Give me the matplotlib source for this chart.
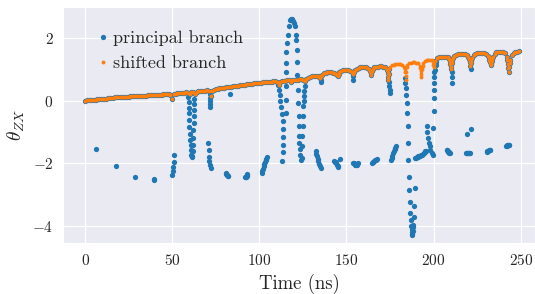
import matplotlib
matplotlib.use("Agg")
import matplotlib.pyplot as plt
import numpy as np
import seaborn as sns

# upper band, one sample per ns (t = 0 .. 249)
band_shifted = [
    0.00, 0.01, 0.01, 0.02, 0.02, 0.03, 0.03, 0.04, 0.04, 0.05,
    0.05, 0.06, 0.06, 0.07, 0.08, 0.10, 0.10, 0.11, 0.11, 0.11,
    0.12, 0.12, 0.12, 0.13, 0.13, 0.13, 0.14, 0.14, 0.14, 0.14,
    0.15, 0.15, 0.15, 0.16, 0.16, 0.16, 0.17, 0.17, 0.17, 0.18,
    0.18, 0.18, 0.19, 0.19, 0.19, 0.20, 0.20, 0.20, 0.21, 0.18,
    0.04, 0.20, 0.22, 0.23, 0.23, 0.24, 0.25, 0.26, 0.27, 0.26,
    0.22, 0.27, 0.28, 0.22, 0.29, 0.30, 0.31, 0.31, 0.32, 0.32,
    0.33, 0.30, 0.16, 0.32, 0.35, 0.37, 0.38, 0.39, 0.40, 0.41,
    0.42, 0.43, 0.44, 0.44, 0.45, 0.46, 0.47, 0.47, 0.48, 0.49,
    0.50, 0.50, 0.51, 0.52, 0.53, 0.53, 0.54, 0.55, 0.56, 0.56,
    0.57, 0.58, 0.59, 0.59, 0.60, 0.60, 0.61, 0.61, 0.62, 0.62,
    0.60, 0.50, 0.60, 0.63, 0.64, 0.64, 0.65, 0.65, 0.60, 0.66,
    0.66, 0.67, 0.67, 0.68, 0.68, 0.66, 0.64, 0.70, 0.74, 0.76,
    0.78, 0.79, 0.80, 0.80, 0.78, 0.72, 0.83, 0.87, 0.89, 0.90,
    0.90, 0.90, 0.89, 0.87, 0.84, 0.78, 0.92, 0.96, 0.98, 0.99,
    0.99, 0.98, 0.96, 0.92, 0.85, 0.97, 1.02, 1.05, 1.06, 1.07,
    1.07, 1.07, 1.05, 1.01, 0.83, 1.00, 1.06, 1.08, 1.09, 1.10,
    1.10, 1.09, 1.07, 1.02, 0.67, 1.09, 1.13, 1.15, 1.17, 1.17,
    1.17, 1.16, 1.14, 1.08, 0.67, 1.15, 1.19, 1.21, 1.22, 1.22,
    1.21, 1.19, 1.12, 0.77, 1.20, 1.27, 1.30, 1.31, 1.31, 1.29,
    1.09, 1.28, 1.35, 1.39, 1.41, 1.41, 1.41, 1.40, 1.38, 1.33,
    1.02, 1.35, 1.42, 1.46, 1.48, 1.49, 1.49, 1.49, 1.48, 1.46,
    1.38, 1.12, 1.35, 1.45, 1.49, 1.51, 1.52, 1.52, 1.52, 1.51,
    1.49, 1.44, 1.30, 1.15, 1.40, 1.50, 1.54, 1.56, 1.57, 1.57,
    1.56, 1.52, 1.40, 0.93, 1.30, 1.45, 1.53, 1.56, 1.57, 1.58,
]

# principal branch on the upper band (nan where it sits on the lower branch)
nan = np.nan
band_principal = [
    0.00, 0.01, 0.01, 0.02, 0.02, 0.03, 0.03, 0.04, 0.04, 0.05,
    0.05, 0.06, 0.06, 0.07, 0.08, 0.10, 0.10, 0.11, 0.11, 0.11,
    0.12, 0.12, 0.12, 0.13, 0.13, 0.13, 0.14, 0.14, 0.14, 0.14,
    0.15, 0.15, 0.15, 0.16, 0.16, 0.16, 0.17, 0.17, 0.17, 0.18,
    0.18, 0.18, 0.19, 0.19, 0.19, 0.20, 0.20, 0.20, 0.21, 0.18,
    0.04, 0.20, 0.22, 0.23, 0.23, 0.24, 0.25, 0.26, 0.27, 0.26,
    0.22, 0.27, 0.28, 0.22, 0.29, 0.30, 0.31, 0.31, 0.32, 0.32,
    0.33, 0.30, 0.16, 0.32, 0.35, 0.37, 0.38, 0.39, 0.40, 0.41,
    0.42, 0.43, 0.44, 0.44, 0.45, 0.46, 0.47, 0.47, 0.48, 0.49,
    0.50, 0.50, 0.51, 0.52, 0.53, 0.53, 0.54, 0.55, 0.56, 0.56,
    0.57, 0.58, 0.59, 0.59, 0.60, 0.60, 0.61, 0.61, 0.62, 0.62,
    0.60, 0.50, 0.60, 0.63, 0.64, 0.64, 0.65, 0.65, 0.60, 0.66,
    0.66, 0.67, 0.67, 0.68, 0.68, 0.66, 0.64, 0.70, 0.74, 0.76,
    0.78, 0.79, 0.80, 0.80, 0.78, 0.72, 0.83, 0.87, 0.89, 0.90,
    0.90, 0.90, 0.89, 0.87, 0.84, 0.78, 0.92, 0.96, 0.98, 0.99,
    0.99, 0.98, 0.96, 0.92, 0.85, 0.97, 1.02, 1.05, 1.06, 1.07,
    1.07, 1.07, 1.05, 1.01, 0.83, 1.00, 1.06, 1.08, 1.09, 1.10,
    1.10, 1.09, 1.07, 1.02, 0.67, nan, nan, nan, nan, nan,
    nan, nan, nan, nan, nan, nan, nan, nan, nan, nan,
    nan, nan, nan, nan, nan, nan, nan, nan, nan, nan,
    nan, 1.28, 1.35, 1.39, 1.41, 1.41, 1.41, 1.40, 1.38, 1.33,
    1.02, 1.35, 1.42, 1.46, 1.48, 1.49, 1.49, 1.49, 1.48, 1.46,
    1.38, 1.12, 1.35, 1.45, 1.49, 1.51, 1.52, 1.52, 1.52, 1.51,
    1.49, 1.44, 1.30, 1.15, 1.40, 1.50, 1.54, 1.56, 1.57, 1.57,
    1.56, 1.52, 1.40, 0.93, 1.30, 1.45, 1.53, 1.56, 1.57, 1.58,
]
band_time = np.arange(len(band_shifted))

# extra samples on the steep sides of the cusps (shared by both branches)
cusp_time = [
    134.5, 135.5, 144.5, 145.5, 153.5, 154.5,
    163.5, 163.8, 164.3, 164.6,
    173.4, 173.7, 173.9, 174.3, 174.6,
    209.4, 209.7, 209.9, 210.4, 210.7,
    220.4, 220.7, 221.3, 221.6,
    231.6, 232.4, 232.7, 233.4, 233.7,
    242.3, 242.6, 242.8, 243.3, 243.6,
]
cusp_value = [
    0.76, 0.78, 0.82, 0.86, 0.89, 0.92,
    0.95, 0.88, 0.90, 0.96,
    0.97, 0.88, 0.76, 0.85, 1.00,
    1.27, 1.18, 1.08, 1.20, 1.30,
    1.32, 1.24, 1.20, 1.28,
    1.38, 1.24, 1.18, 1.28, 1.35,
    1.30, 1.18, 1.05, 1.08, 1.20,
]

# cusps where only the shifted branch stays on the upper band
shifted_cusp_time = [183.4, 183.7, 183.9, 184.3, 184.6,
                     192.4, 192.7, 192.9, 193.4, 193.7,
                     199.5, 199.8, 200.4]
shifted_cusp_value = [1.02, 0.92, 0.78, 0.90, 1.07,
                      1.05, 0.96, 0.85, 1.00, 1.12,
                      1.22, 1.14, 1.18]

# principal branch points away from the band (time in ns, angle)
jump_time = [
    6.1, 17.6, 28.7, 39.6, 39.8,
    50.1, 50.3, 50.5, 50.9, 51.1,
    59.3, 59.4, 59.5, 59.6, 59.8, 59.9, 60.1, 60.3, 60.5, 60.7, 60.9, 61.1,
    61.5, 61.7, 61.9, 62.0, 62.2, 62.3, 62.4, 62.5, 62.6, 62.7,
    71.5, 71.6, 71.7, 71.8, 71.9,
    70.7, 70.9, 71.1, 71.3, 71.7, 72.1,
    83.0,
    80.9, 81.1, 81.3, 81.5, 81.8, 82.1,
    91.8, 92.1, 92.4, 92.7, 93.0, 93.2,
    101.4, 101.7, 102.0, 102.4, 102.8, 103.2, 103.6, 104.0, 104.2,
    110.9, 111.3, 111.7, 112.1, 112.5, 112.9, 113.3, 113.6, 113.8, 113.6, 113.3, 113.0,
    115.1, 115.1, 115.2, 115.2, 115.3, 115.4, 115.7, 116.4, 117.1,
    117.8, 118.3, 118.8, 119.4, 120.0, 120.5, 120.9, 121.1, 121.4, 121.6, 121.9,
    122.2, 122.4, 122.6, 122.8, 123.0, 123.0, 123.3, 123.6, 123.9, 124.2,
    124.5, 124.7, 124.9, 125.1, 125.3, 125.5, 125.7, 125.9, 126.1,
    132.4, 132.7, 133.0, 133.4, 133.8, 134.3, 134.8, 135.3,
    135.4, 135.5,
    143.0, 143.4, 143.8, 144.2, 144.6, 145.0, 145.3, 146.3,
    153.9, 154.3, 154.7, 155.1, 155.5, 155.9, 156.3, 156.8,
    153.7, 153.8,
    164.5, 165.0, 165.5, 166.0, 166.5, 167.0, 167.4,
    174.5, 174.6, 174.7, 174.8,
    175.6, 176.0, 176.4, 176.8, 177.2, 177.6, 178.0, 178.3,
    183.6, 183.8, 184.0, 184.3, 184.6, 184.9, 185.2, 185.4, 185.5, 185.9,
    186.1, 186.5, 186.6, 186.9, 187.2, 187.4, 187.5, 187.6,
    187.8, 188.0, 188.2, 188.4, 188.9, 188.9, 189.3,
    189.3, 189.8, 190.3, 190.8, 191.3, 191.8, 192.3, 192.8, 193.3, 193.8,
    194.3, 194.8, 195.3, 195.8,
    196.4, 196.4, 197.0, 197.4, 197.7, 197.9, 198.9, 199.5,
    199.8, 200.0, 200.1, 200.15, 200.2, 200.25, 200.3, 200.8, 201.2, 201.6,
    207.5, 207.8, 208.1, 208.4, 208.7, 209.0, 209.4,
    210.3, 210.4, 210.5,
    218.6, 219.0, 219.4, 219.8, 220.2, 220.6, 220.9,
    219.0, 221.5, 221.5,
    230.5, 230.9, 231.3, 231.7, 232.1, 232.4,
    241.5, 241.9, 242.3, 242.7, 243.1, 243.4,
]
jump_value = [
    -1.54, -2.09, -2.43, -2.52, -2.50,
    -2.38, -2.25, -2.12, -1.96, -1.75,
    0.12, -0.05, -0.22, -0.40, -0.62, -0.85, -1.05, -1.25, -1.42, -1.58, -1.72, -1.80,
    -1.78, -1.62, -1.40, -1.18, -0.95, -0.72, -0.50, -0.30, -0.12, 0.06,
    0.22, 0.10, -0.02, -0.12, -0.20,
    -1.35, -1.59, -1.79, -1.93, -2.04, -2.14,
    0.21,
    -2.30, -2.33, -2.36, -2.38, -2.40, -2.41,
    -2.43, -2.44, -2.43, -2.40, -2.37, -2.35,
    -2.30, -2.24, -2.17, -2.10, -2.03, -1.97, -1.90, -1.85, -1.80,
    0.51, 0.35, 0.18, 0.00, -0.20, -0.42, -0.66, -0.90, -1.15, -1.40, -1.65, -1.93,
    -0.39, 0.03, 0.46, 0.93, 1.21, 1.55, 1.84, 2.10, 2.40,
    2.58, 2.62, 2.60, 2.55, 2.48, 2.37, 2.10, 1.94, 1.62, 1.25, 0.83,
    0.35, -0.07, -0.50, -0.82, -1.14, -1.35, -1.55, -1.72, -1.88, -1.84,
    -1.46, -1.14, -0.82, -0.50, -0.18, -0.02, 0.14, 0.30, 0.46,
    -1.61, -1.70, -1.78, -1.86, -1.94, -2.02, -2.09, -2.14,
    0.66, 0.59,
    -1.93, -1.95, -1.97, -2.00, -2.05, -2.09, -2.12, -1.86,
    -2.00, -1.98, -2.02, -2.05, -2.06, -2.05, -2.03, -1.99,
    0.78, 0.66,
    -1.98, -1.97, -1.95, -1.93, -1.91, -1.89, -1.86,
    0.61, 0.46, 0.35, 0.26,
    -1.88, -1.83, -1.76, -1.68, -1.61, -1.55, -1.50, -1.46,
    0.72, 0.56, 0.40, 0.19, -0.07, -0.39, -0.82, -1.35, -1.88, -2.43,
    -2.86, -3.24, -3.58, -3.81, -4.00, -4.09, -4.20, -4.30,
    -4.25, -4.15, -4.05, -3.98, -3.71, -3.35, -2.78,
    -1.83, -1.82, -1.80, -1.79, -1.78, -1.77, -1.76, -1.74, -1.72, -1.70,
    -1.67, -1.64, -1.62, -1.61,
    -0.80, -1.01, -1.19, -1.35, -1.46, -1.56, -1.67, -1.72,
    -0.87, -0.34, 0.09, 0.35, 0.56, 0.77, 0.93, 0.99, 1.15, 1.25,
    -1.56, -1.58, -1.61, -1.63, -1.65, -1.66, -1.67,
    0.90, 0.75, 0.56,
    -1.66, -1.68, -1.68, -1.68, -1.67, -1.67, -1.66,
    -1.05, -0.92, 1.02,
    -1.63, -1.62, -1.60, -1.58, -1.57, -1.56,
    -1.46, -1.44, -1.42, -1.41, -1.40, -1.40,
]

principal_time = np.concatenate([band_time, cusp_time, jump_time])
principal_value = np.concatenate([band_principal, cusp_value, jump_value])
shifted_time = np.concatenate([band_time, cusp_time, shifted_cusp_time])
shifted_value = np.concatenate([band_shifted, cusp_value, shifted_cusp_value])

sns.set_style("darkgrid")
plt.rcParams["font.family"] = "serif"
plt.rcParams["font.serif"] = ["cmr10"]
plt.rcParams["mathtext.fontset"] = "cm"
plt.rcParams["axes.formatter.use_mathtext"] = True

fig = plt.figure(figsize=(5.35, 2.94), dpi=100)
ax = fig.add_axes([0.118, 0.173, 0.882, 0.803])
ax.plot(principal_time, principal_value, "o", ms=3.8, mew=0, color="#1f77b4",
        label="principal branch")
ax.plot(shifted_time, shifted_value, "o", ms=2.8, mew=0, color="#ff7f0e",
        label="shifted branch")
ax.set_xlim(-12.6, 258.2)
ax.set_ylim(-4.55, 2.99)
ax.set_xticks([0, 50, 100, 150, 200, 250])
ax.set_yticks([-4, -2, 0, 2])
ax.tick_params(labelsize=11)
ax.set_xlabel("Time (ns)", fontsize=13.5)
ax.set_ylabel(r"$\theta_{ZX}$", fontsize=14)
ax.legend(loc="upper left", bbox_to_anchor=(0.03, 0.97), fontsize=13,
          handlelength=1.0, handletextpad=0.1, frameon=False)
fig.savefig("out.png")
